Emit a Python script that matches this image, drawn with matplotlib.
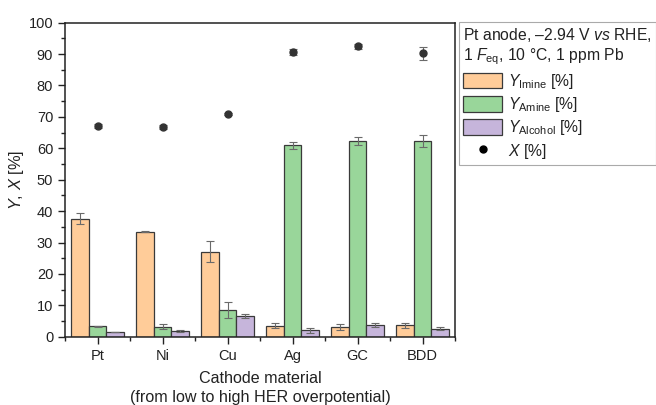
import matplotlib
matplotlib.use("Agg")
import matplotlib.pyplot as plt
import numpy as np
from matplotlib.patches import Patch
from matplotlib.lines import Line2D
from matplotlib.ticker import MultipleLocator, FixedLocator

plt.rcParams['font.family'] = ['Liberation Sans', 'DejaVu Sans']
plt.rcParams['mathtext.fontset'] = 'custom'
plt.rcParams['mathtext.rm'] = 'Liberation Sans'
plt.rcParams['mathtext.it'] = 'Liberation Sans:italic'
plt.rcParams['mathtext.bf'] = 'Liberation Sans:bold'

categories = ['Pt', 'Ni', 'Cu', 'Ag', 'GC', 'BDD']
y_imine = [37.6, 33.4, 27.1, 3.5, 3.1, 3.6]
y_imine_err = [1.7, 0.2, 3.4, 0.8, 0.9, 0.7]
y_amine = [3.3, 3.1, 8.5, 60.9, 62.2, 62.3]
y_amine_err = [0.1, 0.8, 2.4, 1.2, 1.3, 1.9]
y_alcohol = [1.5, 1.7, 6.6, 2.0, 3.8, 2.5]
y_alcohol_err = [0.1, 0.3, 0.5, 0.8, 0.7, 0.5]
conv = [67.2, 66.8, 70.9, 90.6, 92.5, 90.3]
conv_err = [0.6, 0.5, 0.4, 0.9, 0.8, 2.1]

c_imine = '#FFCC99'
c_amine = '#99D69A'
c_alcohol = '#C6B5DB'
edge = '#3a3a3a'
errc = '#6a6a6a'

fig = plt.figure(figsize=(6.56, 4.05), dpi=100)
ax = fig.add_axes([0.0991, 0.1686, 0.5945, 0.7754])

x = np.arange(len(categories))
w = 0.267
ekw = dict(ecolor=errc, elinewidth=0.8, capsize=3, capthick=0.8)
for off, vals, errs, col in [(-w, y_imine, y_imine_err, c_imine),
                             (0, y_amine, y_amine_err, c_amine),
                             (w, y_alcohol, y_alcohol_err, c_alcohol)]:
    ax.bar(x + off, vals, w, color=col, edgecolor=edge, linewidth=0.9,
           yerr=errs, error_kw=ekw, zorder=2)

ax.errorbar(x, conv, yerr=conv_err, fmt='o', color='#333333', ms=5,
            ecolor=errc, elinewidth=0.8, capsize=3, capthick=0.8, zorder=3)

ax.set_xlim(-0.5, len(categories) - 0.5)
ax.set_ylim(0, 100)
ax.yaxis.set_major_locator(MultipleLocator(10))
ax.yaxis.set_minor_locator(MultipleLocator(5))
ax.set_xticks(x)
ax.set_xticklabels(categories)
ax.xaxis.set_minor_locator(FixedLocator(np.arange(-0.5, len(categories), 1.0)))
ax.tick_params(axis='both', which='major', direction='out', length=5, width=1,
               labelsize=10.5, color='#222222', labelcolor='#222222')
ax.tick_params(axis='both', which='minor', direction='out', length=3, width=1,
               color='#222222')
for s in ax.spines.values():
    s.set_linewidth(1.1)
    s.set_color('#222222')

ax.set_ylabel(r'$Y$, $X$ [%]', fontsize=11.8, labelpad=1.5, color='#222222')
ax.set_xlabel('Cathode material\n(from low to high HER overpotential)',
              fontsize=11.6, labelpad=6, linespacing=1.35, color='#222222')

handles = [Patch(facecolor=c_imine, edgecolor=edge, linewidth=0.9),
           Patch(facecolor=c_amine, edgecolor=edge, linewidth=0.9),
           Patch(facecolor=c_alcohol, edgecolor=edge, linewidth=0.9),
           Line2D([], [], marker='o', ls='none', color='black', ms=5)]
labels = [r'$Y_{\mathrm{Imine}}$ [%]', r'$Y_{\mathrm{Amine}}$ [%]',
          r'$Y_{\mathrm{Alcohol}}$ [%]', r'$X$ [%]']
leg = fig.legend(handles, labels, loc='upper left',
                 bbox_to_anchor=(0.6997, 0.9457), borderaxespad=0,
                 title='Pt anode, \u20132.94 V $\\it{vs}$ RHE,\n1 $F_{\\mathrm{eq}}$, 10 \u00b0C, 1 ppm Pb',
                 alignment='left', fontsize=11.3, title_fontsize=11.3,
                 handlelength=2.5, handleheight=1.15, labelspacing=0.28,
                 handletextpad=0.4, borderpad=0.25, fancybox=False,
                 edgecolor='#aaaaaa', framealpha=1)
leg.get_frame().set_linewidth(0.8)
leg.get_title().set_color('#222222')
for t in leg.get_texts():
    t.set_color('#222222')

fig.savefig('out.png', dpi=100)
